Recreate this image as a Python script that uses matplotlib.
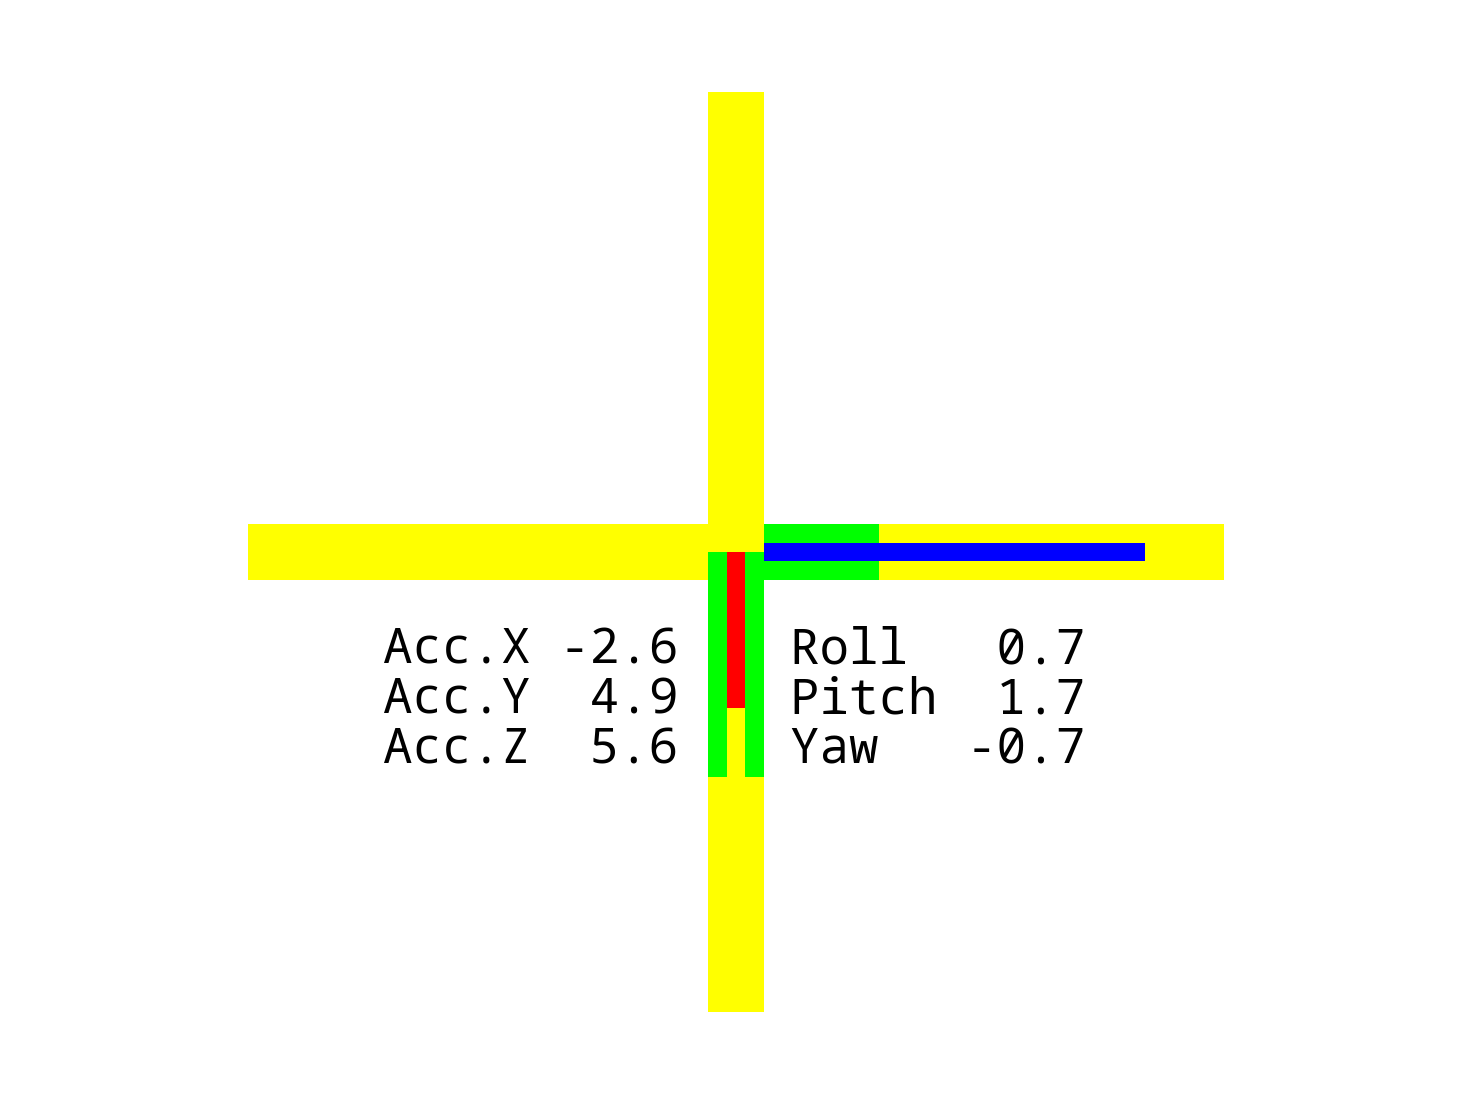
import matplotlib
matplotlib.use("Agg")
import matplotlib.pyplot as plt
from matplotlib import font_manager as fm

# ---- data ----
acc_labels = ["Acc.X", "Acc.Y", "Acc.Z"]
acc_values = [-2.6, 4.9, 5.6]
gyro_labels = ["Roll", "Pitch", "Yaw"]
gyro_values = [0.7, 1.7, -0.7]

arm_range = 10.0            # length of each yellow arm
h_green_len = 3.11          # horizontal green bar (from centre, to the right)
h_blue_len = 8.89           # horizontal blue bar (from centre, to the right)
v_green_lens = [4.89, 4.89] # two vertical green bars (left, right), downwards
v_red_len = 3.39            # vertical red bar (from centre, downwards)

# ---- styles / layout ----
YEL, GRN, RED, BLU = "#ffff00", "#00ff00", "#ff0000", "#0000ff"
W = 56 / 46                 # thick bar width
w = 18 / 46                 # thin bar width
wg = 19 / 46                # thin green bar width

names = {f.name for f in fm.fontManager.ttflist}
if "Noto Sans Mono" in names:
    MONO, FS = "Noto Sans Mono", 15.4
else:
    MONO, FS = "DejaVu Sans Mono", 15.45

fig = plt.figure(figsize=(6.4, 4.8), dpi=230)
ax = fig.add_axes([0, 0, 1, 1])
ax.set_xlim(-16, 16)
ax.set_ylim(12, -12)
ax.axis("off")

kw = dict(linewidth=0, antialiased=False)
# horizontal arm
ax.barh(0, 2 * arm_range + W, left=-(arm_range + W / 2), height=W, color=YEL, **kw)
ax.barh(0, h_green_len, left=0, height=W, color=GRN, **kw)
ax.barh(0, h_blue_len, left=0, height=w, color=BLU, **kw)
# vertical arm
ax.bar(0, 2 * arm_range, bottom=-arm_range, width=W, color=YEL, **kw)
ax.bar([-(w + wg) / 2, (w + wg) / 2], v_green_lens, bottom=0, width=wg, color=GRN, **kw)
ax.bar(0, v_red_len, bottom=0, width=w, color=RED, **kw)

x_left = (383 - 736) / 46
x_right = (790 - 736) / 46
y0, dy = 111 / 46, 50 / 46
for i, (lab, val) in enumerate(zip(acc_labels, acc_values)):
    ax.text(x_left, y0 + dy * i, f"{lab:<5}{val:5.1f}", family=MONO,
            fontsize=FS, ha="left", va="baseline")
for i, (lab, val) in enumerate(zip(gyro_labels, gyro_values)):
    ax.text(x_right, y0 + dy * i, f"{lab:<5}{val:5.1f}", family=MONO,
            fontsize=FS, ha="left", va="baseline")

fig.savefig("out.png", dpi=230)
